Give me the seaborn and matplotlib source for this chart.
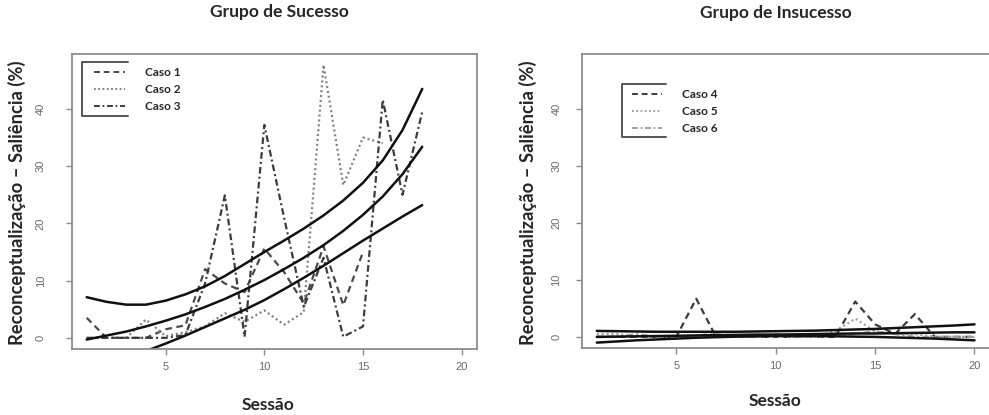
import numpy as np
import pandas as pd
import matplotlib
matplotlib.use("Agg")
import matplotlib.pyplot as plt
from matplotlib.lines import Line2D
import seaborn as sns

# ---------------- data ----------------
sessoes_sucesso = list(range(1, 19))
caso1 = [3.5, 0, 0, 0, 1.5, 2.2, 12.0, 9.5, 8.0, 15.6, 11.5, 6.0, 16.0, 5.7, 15.0]
caso2 = [0, 0, 0, 3.2, 0.3, 1.0, 2.0, 4.3, 2.8, 4.8, 2.3, 4.5, 47.7, 26.7, 35.0, 34.0]
caso3 = [0, 0, 0, 0, 0, 0.5, 9.5, 24.9, 0.2, 37.2, 21.0, 5.4, 14.0, 0.2, 2.0, 41.6, 25.0, 39.5]
suc_superior = [7.1, 6.3, 5.8, 5.8, 6.5, 7.6, 9.0, 10.8, 12.9, 15.0, 17.0, 19.1, 21.4, 24.0, 27.1, 31.0, 36.3, 43.5]
suc_media = [-0.3, 0.4, 1.1, 2.0, 3.0, 4.1, 5.4, 6.8, 8.4, 10.1, 12.0, 14.0, 16.2, 18.7, 21.5, 24.7, 28.6, 33.4]
suc_inferior = [-6.0, -4.7, -3.5, -2.3, -1.0, 0.4, 1.9, 3.4, 4.9, 6.6, 8.5, 10.5, 12.6, 14.8, 17.0, 19.1, 21.2, 23.2]

sessoes_insucesso = list(range(1, 21))
caso4 = [0, 0, 0, 0, 0, 6.7, 0, 0, 0, 0, 0, 0, 0, 6.2, 2.2, 0.5, 4.0, 0, 0, 0]
caso5 = [0.5, 0.5, 0, 0, 0, 0, 0.5, 0, 0, 0, 0, 0, 1.0, 3.2, 1.0, 0.5, 0.5, 0, 0, 0]
caso6 = [0, 0, 0.5, 0, 0, 0.3, 0.5, 0, 0, 0.5, 0, 0, 0.3, 0.5, 1.0, 0.5, 0, 0, 0, 0]
ins_superior = [1.05, 1.0, 0.95, 0.9, 0.9, 0.9, 0.9, 0.9, 0.95, 1.0, 1.05, 1.1, 1.2, 1.3, 1.4, 1.55, 1.7, 1.85, 2.0, 2.2]
ins_media = [0.0, 0.05, 0.1, 0.15, 0.2, 0.25, 0.3, 0.35, 0.4, 0.4, 0.45, 0.5, 0.55, 0.6, 0.6, 0.65, 0.7, 0.75, 0.8, 0.8]
ins_inferior = [-1.0, -0.8, -0.6, -0.45, -0.3, -0.15, -0.05, 0.05, 0.1, 0.15, 0.15, 0.15, 0.1, 0.05, 0.0, -0.1, -0.2, -0.3, -0.45, -0.6]

titulos = ["Grupo de Sucesso", "Grupo de Insucesso"]
rotulo_y = "Reconceptualização – Saliência (%)"
rotulo_x = "Sessão"
xticks = [5, 10, 15, 20]
yticks = [0, 10, 20, 30, 40]


def long_df(sessions, series, names):
    rows = []
    for name, vals in zip(names, series):
        for s, v in zip(sessions, vals):
            rows.append({"Sessão": s, "Valor": v, "Caso": name})
    return pd.DataFrame(rows)


df_suc = long_df(sessoes_sucesso, [caso1, caso2, caso3], ["Caso 1", "Caso 2", "Caso 3"])
df_ins = long_df(sessoes_insucesso, [caso4, caso5, caso6], ["Caso 4", "Caso 5", "Caso 6"])
cur_suc = long_df(sessoes_sucesso, [suc_superior, suc_media, suc_inferior], ["sup", "med", "inf"])
cur_ins = long_df(sessoes_insucesso, [ins_superior, ins_media, ins_inferior], ["sup", "med", "inf"])

# ---------------- style ----------------
sns.set_style("white")
plt.rcParams["font.family"] = ["Lato", "DejaVu Sans"]

W, H = 989, 415
fig = plt.figure(figsize=(W / 100, H / 100), dpi=100)


def fx(x):
    return x / W


def fy(y):
    return 1 - y / H


ax1 = fig.add_axes([fx(71.7), fy(349.3), fx(476.7) - fx(71.7), fy(54) - fy(349.3)])
ax2 = fig.add_axes([fx(581.7), fy(348.3), fx(989.6) - fx(581.7), fy(54) - fy(348.3)])

pal_suc = {"Caso 1": "#4a4a4a", "Caso 2": "#808080", "Caso 3": "#3c3c3c"}
pal_ins = {"Caso 4": "#3c3c3c", "Caso 5": "#a0a0a0", "Caso 6": "#a0a0a0"}
dash_suc = {"Caso 1": (3, 2), "Caso 2": (0.9, 1.3), "Caso 3": (3, 1.4, 0.9, 1.4)}
dash_ins = {"Caso 4": (3, 2), "Caso 5": (0.9, 1.3), "Caso 6": (3, 1.4, 0.9, 1.4)}

configs = [
    (ax1, df_suc, cur_suc, pal_suc, dash_suc, 14.4, (94, 67.5), [(127.7, 62.3), (81.7, 62.3), (81.7, 116), (127.7, 116)]),
    (ax2, df_ins, cur_ins, pal_ins, dash_ins, 10.3, (631.7, 89.5), [(665.7, 84), (621.7, 84), (621.7, 136.7), (665.7, 136.7)]),
]

for ax, df, cur, pal, dsh, ypad, leg_pos, bracket in configs:
    sns.lineplot(data=df, x="Sessão", y="Valor", hue="Caso", style="Caso",
                 palette=pal, dashes=dsh, linewidth=1.6, ax=ax, legend=True)
    leg = ax.get_legend()
    handles = list(leg.legend_handles)
    labels = [t.get_text() for t in leg.get_texts()]
    leg.remove()
    sns.lineplot(data=cur, x="Sessão", y="Valor", units="Caso", estimator=None,
                 color="#111111", linewidth=1.8, ax=ax, legend=False)

    ax.set_xlim(0.24, 20.76)
    ax.set_ylim(-2.0, 49.6)
    ax.set_xticks(xticks)
    ax.set_yticks(yticks)
    ax.set_xlabel("")
    ax.set_ylabel("")
    for sp in ax.spines.values():
        sp.set_color("#8c8c8c")
        sp.set_linewidth(1.3)
    ax.tick_params(axis="both", which="both", direction="out", length=4.3,
                   width=1.0, color="#8c8c8c", labelcolor="#6a6a6a",
                   labelsize=8, bottom=True, left=True)
    ax.tick_params(axis="x", pad=4.5)
    ax.tick_params(axis="y", pad=ypad)
    for lab in ax.get_xticklabels() + ax.get_yticklabels():
        lab.set_fontfamily("Liberation Sans")
    for lab in ax.get_yticklabels():
        lab.set_rotation(90)
        lab.set_va("center")

    for h in handles:
        h.set_linewidth(1.4)
    ax.legend(handles, labels, loc="upper left",
              bbox_to_anchor=(fx(leg_pos[0]), fy(leg_pos[1])),
              bbox_transform=fig.transFigure, frameon=False,
              borderpad=0, borderaxespad=0, handlelength=2.6,
              handletextpad=1.7, labelspacing=0.5,
              prop={"family": "Lato", "weight": "bold", "size": 8.5})
    xs = [fx(p[0]) for p in bracket]
    ys = [fy(p[1]) for p in bracket]
    fig.add_artist(Line2D(xs, ys, transform=fig.transFigure, color="#555555", lw=1.4))

fig.text(fx(279), fy(12), titulos[0], ha="center", va="center", fontsize=12.5, fontweight="bold")
fig.text(fx(776), fy(13), titulos[1], ha="center", va="center", fontsize=12.5, fontweight="bold")
fig.text(fx(17), fy(203), rotulo_y, rotation=90, ha="center", va="center", fontsize=13.2, fontweight="bold")
fig.text(fx(528), fy(203), rotulo_y, rotation=90, ha="center", va="center", fontsize=13.2, fontweight="bold")
fig.text(fx(268), fy(405), rotulo_x, ha="center", va="center", fontsize=12.5, fontweight="bold")
fig.text(fx(775), fy(401), rotulo_x, ha="center", va="center", fontsize=12.5, fontweight="bold")

fig.savefig("out.png", dpi=100)
